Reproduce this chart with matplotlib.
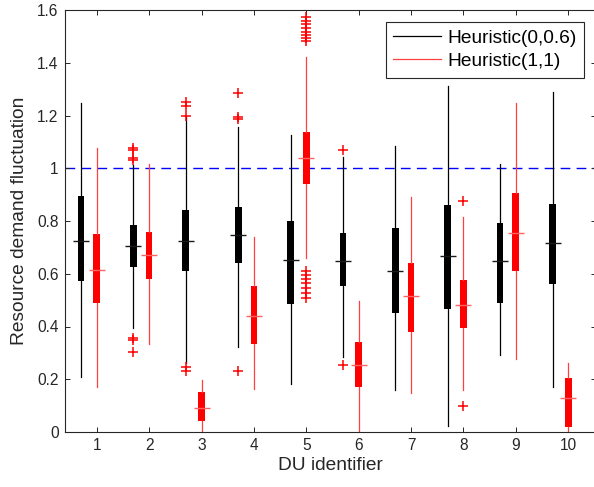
import matplotlib
matplotlib.use("Agg")
import matplotlib.pyplot as plt
from matplotlib.lines import Line2D

plt.rcParams["font.family"] = ["Liberation Sans", "DejaVu Sans"]

du_ids = [1, 2, 3, 4, 5, 6, 7, 8, 9, 10]
labels = ["Heuristic(0,0.6)", "Heuristic(1,1)"]

# Heuristic(0,0.6): whisker low, q1, median, q3, whisker high per DU
h06_lo = [0.210, 0.393, 0.260, 0.323, 0.182, 0.286, 0.159, 0.023, 0.292, 0.172]
h06_q1 = [0.573, 0.624, 0.610, 0.640, 0.485, 0.554, 0.452, 0.468, 0.490, 0.561]
h06_med = [0.724, 0.705, 0.725, 0.747, 0.651, 0.650, 0.612, 0.667, 0.648, 0.718]
h06_q3 = [0.896, 0.784, 0.840, 0.854, 0.800, 0.753, 0.772, 0.859, 0.791, 0.864]
h06_hi = [1.246, 1.012, 1.196, 1.158, 1.126, 1.044, 1.084, 1.312, 1.015, 1.288]
h06_out = [
    [],
    [1.075, 1.068, 1.038, 1.032, 0.358, 0.350, 0.302],
    [1.252, 1.236, 1.200, 0.247, 0.232],
    [1.285, 1.195, 1.188, 0.232],
    [],
    [1.069, 0.254],
    [],
    [],
    [],
    [],
]

# Heuristic(1,1)
h11_lo = [0.172, 0.333, 0.000, 0.162, 0.659, 0.000, 0.147, 0.159, 0.276, 0.000]
h11_q1 = [0.490, 0.581, 0.043, 0.332, 0.939, 0.169, 0.380, 0.393, 0.610, 0.020]
h11_med = [0.614, 0.671, 0.090, 0.441, 1.038, 0.254, 0.517, 0.480, 0.756, 0.130]
h11_q3 = [0.749, 0.757, 0.150, 0.554, 1.136, 0.340, 0.640, 0.576, 0.905, 0.204]
h11_hi = [1.076, 1.015, 0.197, 0.741, 1.423, 0.497, 0.892, 0.814, 1.249, 0.260]
h11_out = [
    [],
    [],
    [],
    [],
    [1.572, 1.559, 1.547, 1.531, 1.518, 1.505, 1.493, 1.484,
     0.612, 0.595, 0.579, 0.564, 0.545, 0.526, 0.509],
    [],
    [],
    [0.877, 0.099],
    [],
    [],
]

threshold = 1.0

axis_col = "#262626"
red_thin = "#ff4040"


def make_stats(lo, q1, med, q3, hi, out):
    return [
        dict(whislo=a, q1=b, med=c, q3=d, whishi=e, fliers=f)
        for a, b, c, d, e, f in zip(lo, q1, med, q3, hi, out)
    ]


fig = plt.figure(figsize=(5.94, 4.87), dpi=100)
ax = fig.add_axes([65 / 594, 55 / 487, 531 / 594, 422 / 487])

box_w = 0.128
med_w = 0.306
offset = 0.3

series = [
    (make_stats(h06_lo, h06_q1, h06_med, h06_q3, h06_hi, h06_out),
     [d - offset for d in du_ids], "black", "black", "#1a1a1a"),
    (make_stats(h11_lo, h11_q1, h11_med, h11_q3, h11_hi, h11_out),
     du_ids, "red", red_thin, "#ff6060"),
]

for stats, pos, fill, thin, med_col in series:
    ax.bxp(
        stats,
        positions=pos,
        widths=box_w,
        patch_artist=True,
        showcaps=False,
        boxprops=dict(facecolor=fill, edgecolor=fill, linewidth=0),
        whiskerprops=dict(color=thin, linewidth=0.9),
        medianprops=dict(visible=False),
        flierprops=dict(marker="+", markeredgecolor="red", markersize=7,
                        markeredgewidth=1.1, linestyle="none"),
        manage_ticks=False,
    )
    meds = [s["med"] for s in stats]
    ax.hlines(meds, [p - med_w / 2 for p in pos], [p + med_w / 2 for p in pos],
              color=med_col, linewidth=1.0, zorder=3)

ax.axhline(threshold, color="#0000ff", linestyle=(0, (7, 4.5)), linewidth=1.0,
           zorder=1)

ax.set_xlim(0.394, 10.53)
ax.set_ylim(0, 1.6)
ax.set_xticks(du_ids)
ax.set_xticklabels([str(d) for d in du_ids])
yt = [0, 0.2, 0.4, 0.6, 0.8, 1.0, 1.2, 1.4, 1.6]
ax.set_yticks(yt)
ax.set_yticklabels([f"{v:g}" for v in yt])

ax.tick_params(direction="in", length=3.6, width=0.7, colors=axis_col,
               labelsize=11.2, top=True, right=True, pad=4.5)
for sp in ax.spines.values():
    sp.set_color(axis_col)
    sp.set_linewidth(0.8)

ax.set_xlabel("DU identifier", fontsize=13.8, color=axis_col, va="center")
ax.xaxis.set_label_coords(0.5, (432 - 466) / 422)
ax.set_ylabel("Resource demand fluctuation", fontsize=13.8, color=axis_col,
              va="center")
ax.yaxis.set_label_coords((20 - 65) / 531, 0.5)

handles = [
    Line2D([], [], color="black", linewidth=0.9),
    Line2D([], [], color=red_thin, linewidth=0.9),
]
leg = ax.legend(
    handles, labels,
    loc="upper right",
    bbox_to_anchor=(584 / 594, 1 - 21.7 / 487),
    bbox_transform=fig.transFigure,
    borderaxespad=0,
    fontsize=13.8,
    handlelength=2.5,
    handletextpad=0.3,
    labelspacing=0.3,
    borderpad=0.4,
    fancybox=False,
    framealpha=1,
    edgecolor=axis_col,
)
leg.get_frame().set_linewidth(0.8)

fig.savefig("out.png", dpi=100)
